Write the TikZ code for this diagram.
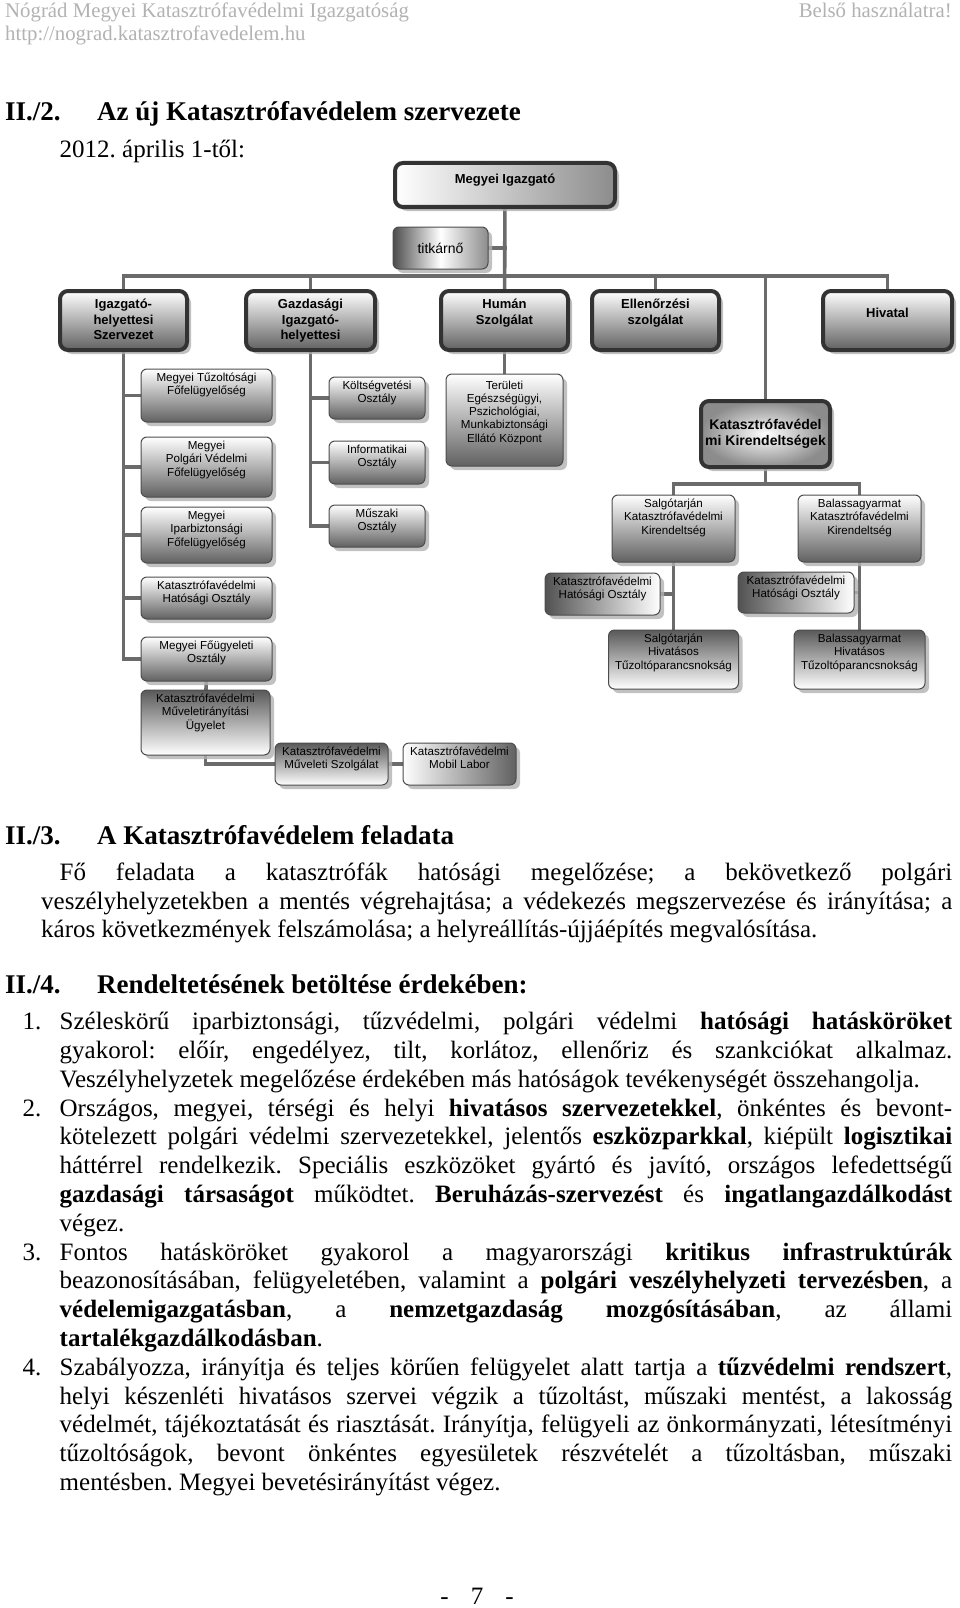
\documentclass[tikz,border=0pt]{standalone}
\usepackage{fontspec}
\setmainfont{Liberation Serif}
\newfontfamily\chartfont{Liberation Sans}
\usetikzlibrary{positioning, shadows, backgrounds}

\setlength{\parindent}{0pt}
\frenchspacing
\tolerance=9999
\hyphenpenalty=10000
\exhyphenpenalty=10000
\lineskiplimit=-100pt

\begin{document}
\begin{tikzpicture}[x=1pt, y=-1pt,
    hdr/.style={text=black!30, font=\fontsize{20.8}{22.5}\selectfont, inner sep=0pt},
    sect/.style={font=\fontsize{27}{30}\selectfont\bfseries, inner sep=0pt, anchor=base west},
    body/.style={font=\fontsize{25}{28.8}\selectfont, inner sep=0pt},
    conn/.style={draw=black!58, line width=3.6pt, line cap=rect},
    box/.style={rounded corners=6pt, draw=black!70, line width=1pt,
        drop shadow={shadow xshift=4pt, shadow yshift=-4pt, fill=black!30, opacity=0.8}},
    bigbox/.style={box, rounded corners=8pt, draw=black!80, line width=4pt},
    litedown/.style={top color=white, bottom color=black!62},
    darkdown/.style={top color=black!65, bottom color=white},
    darkleft/.style={left color=black!68, right color=white},
    darkright/.style={left color=white, right color=black!62},
    txt/.style={font=\chartfont\fontsize{11.6}{13.3}\selectfont, align=center, inner sep=0pt, anchor=north, yshift=-4.4pt},
    btxt/.style={font=\chartfont\bfseries\fontsize{13}{15.5}\selectfont, align=center, inner sep=0pt, anchor=north, yshift=-10pt}
    ]
\useasboundingbox (0,0) rectangle (960,1608);

\node[hdr, anchor=base west] (org) at (5,18) {Nógrád Megyei Katasztrófavédelmi Igazgatóság};
\node[hdr, anchor=base west] (web) at (5,41) {http://nograd.katasztrofavedelem.hu};
\node[hdr, anchor=base east] (belso) at (952,18) {Belső használatra!};

\node[sect] (n2) at (5,121) {II./2.};
\node[sect] (t2) at (97,121) {Az új Katasztrófavédelem szervezete};
\node[body, anchor=base west] (datum) at (59.5,158) {2012. április 1-től:};

\node[bigbox, left color=white, right color=black!45, minimum width=220, minimum height=44,
      label={[btxt, yshift=-3pt]north:{Megyei Igazgató}}] (igaz) at (505,185) {};
\node[box, left color=black!70, right color=black!45, middle color=white, minimum width=95, minimum height=42,
      font=\chartfont\fontsize{14}{16}\selectfont] (tit) at (440.5,248) {titkárnő};

\node[bigbox, litedown, minimum width=127, minimum height=59, label={[btxt]north:{Igazgató-\\helyettesi\\Szervezet}}] (igh) at (123.5,320.5) {};
\node[bigbox, litedown, minimum width=129, minimum height=59, label={[btxt]north:{Gazdasági\\Igazgató-\\helyettesi}}] (gaz) at (310.5,320.5) {};
\node[bigbox, litedown, minimum width=127, minimum height=59, label={[btxt]north:{Humán\\Szolgálat}}] (hum) at (504.5,320.5) {};
\node[bigbox, litedown, minimum width=127, minimum height=59, label={[btxt]north:{Ellenőrzési\\szolgálat}}] (ell) at (655.5,320.5) {};
\node[bigbox, litedown, minimum width=129, minimum height=59, label={[btxt, yshift=-9pt]north:{Hivatal}}] (hiv) at (887.5,320.5) {};

\node[box, litedown, minimum width=131, minimum height=53, label={[txt]north:{Megyei Tűzoltósági\\Főfelügyelőség}}] (tuz) at (206.5,395.5) {};
\node[box, litedown, minimum width=131, minimum height=60, label={[txt]north:{Megyei\\Polgári Védelmi\\Főfelügyelőség}}] (pv) at (206.5,467) {};
\node[box, litedown, minimum width=131, minimum height=56, label={[txt]north:{Megyei\\Iparbiztonsági\\Főfelügyelőség}}] (ipar) at (206.5,535) {};
\node[box, litedown, minimum width=131, minimum height=42, label={[txt]north:{Katasztrófavédelmi\\Hatósági Osztály}}] (hat) at (206.5,598) {};
\node[box, litedown, minimum width=131, minimum height=44, label={[txt]north:{Megyei Főügyeleti\\Osztály}}] (fougy) at (206.5,659) {};
\node[box, darkdown, minimum width=129, minimum height=65, label={[txt]north:{Katasztrófavédelmi\\Műveletirányítási\\Ügyelet}}] (muv) at (205.5,722.5) {};
\node[box, darkdown, minimum width=113, minimum height=42, label={[txt]north:{Katasztrófavédelmi\\Műveleti Szolgálat}}] (szolg) at (331.5,764) {};
\node[box, darkright, minimum width=113, minimum height=42, right=14pt of szolg, label={[txt]north:{Katasztrófavédelmi\\Mobil Labor}}] (labor) {};

\node[box, litedown, minimum width=96, minimum height=42, label={[txt]north:{Költségvetési\\Osztály}}] (kolt) at (377,398) {};
\node[box, litedown, minimum width=96, minimum height=43, below=21pt of kolt, label={[txt]north:{Informatikai\\Osztály}}] (info) {};
\node[box, litedown, minimum width=96, minimum height=42, below=20pt of info, label={[txt]north:{Műszaki\\Osztály}}] (musz) {};

\node[box, litedown, minimum width=117, minimum height=92, label={[txt, yshift=-2.5pt]north:{Területi\\Egészségügyi,\\Pszichológiai,\\Munkabiztonsági\\Ellátó Központ}}] (ter) at (504.5,420) {};

\node[bigbox, inner color=white, outer color=black!45, minimum width=129, minimum height=66,
      font=\chartfont\bfseries\fontsize{14}{16.5}\selectfont, align=center] (kir) at (765.5,434) {Katasztrófavédel\\mi Kirendeltségek};
\node[box, litedown, minimum width=123, minimum height=67, label={[txt]north:{Salgótarján\\Katasztrófavédelmi\\Kirendeltség}}] (skir) at (673.5,528.5) {};
\node[box, litedown, minimum width=123, minimum height=67, label={[txt]north:{Balassagyarmat\\Katasztrófavédelmi\\Kirendeltség}}] (bkir) at (859.5,528.5) {};
\node[box, darkleft, minimum width=115, minimum height=42, label={[txt]north:{Katasztrófavédelmi\\Hatósági Osztály}}] (shat) at (602.5,594) {};
\node[box, darkleft, minimum width=116, minimum height=41, label={[txt]north:{Katasztrófavédelmi\\Hatósági Osztály}}] (bhat) at (796,592.5) {};
\node[box, darkdown, minimum width=130, minimum height=59, label={[txt]north:{Salgótarján\\Hivatásos\\Tűzoltóparancsnokság}}] (shtp) at (673.5,659.5) {};
\node[box, darkdown, minimum width=131, minimum height=59, label={[txt]north:{Balassagyarmat\\Hivatásos\\Tűzoltóparancsnokság}}] (bhtp) at (859.5,659.5) {};

\begin{scope}[on background layer]
\coordinate (bus) at (505,276);
\coordinate (kbus) at (765.5,484);
\draw[conn] (igaz) -- (hum);
\draw[conn] (tit.east) -- (tit.east -| igaz.south);
\draw[conn] (igh.north |- bus) -- (hiv.north |- bus);
\foreach \n in {igh, gaz, ell, hiv, kir}
    \draw[conn] (\n.north) -- (\n.north |- bus);
\draw[conn] (igh.south) -- (igh.south |- fougy.west);
\foreach \n in {tuz, pv, ipar, hat, fougy}
    \draw[conn] (\n.west) -- (\n.west -| igh.south);
\draw[conn] (gaz.south) -- (gaz.south |- musz.west);
\foreach \n in {kolt, info, musz}
    \draw[conn] (\n.west) -- (\n.west -| gaz.south);
\draw[conn] (hum) -- (ter);
\draw[conn] (fougy) -- (muv);
\draw[conn] (muv.south) |- (szolg.west);
\draw[conn] (szolg) -- (labor);
\draw[conn] (kir.south) -- (kir.south |- kbus);
\draw[conn] (skir.north |- kbus) -- (bkir.north |- kbus);
\foreach \n in {skir, bkir}
    \draw[conn] (\n.north) -- (\n.north |- kbus);
\draw[conn] (skir) -- (shtp);
\draw[conn] (bkir) -- (bhtp);
\draw[conn] (shat.east) -- (shat.east -| skir.south);
\draw[conn] (bhat.east) -- (bhat.east -| bkir.south);
\end{scope}

\node[sect] (n3) at (5,844) {II./3.};
\node[sect] (t3) at (97,844) {A Katasztrófavédelem feladata};
\node[body, anchor=north west, text width=911pt, align=justify] (feladat) at (41,856) {\rule{0pt}{24pt}\hspace*{18.5pt}Fő feladata a katasztrófák hatósági megelőzése; a bekövetkező polgári\linebreak
veszélyhelyzetekben a mentés végrehajtása; a védekezés megszervezése és irányítása; a\linebreak
káros következmények felszámolása; a helyreállítás-újjáépítés megvalósítása.};

\node[sect] (n4) at (5,993) {II./4.};
\node[sect] (t4) at (97,993) {Rendeltetésének betöltése érdekében:};
\node[body, anchor=north west, text width=929.5pt, align=justify] (pontok) at (22.5,1005.5) {%
\hangindent=37pt\hangafter=1\rule{0pt}{24pt}\makebox[37pt][l]{1.}Széleskörű iparbiztonsági, tűzvédelmi, polgári védelmi \textbf{hatósági hatásköröket}\linebreak
gyakorol: előír, engedélyez, tilt, korlátoz, ellenőriz és szankciókat alkalmaz.\linebreak
Veszélyhelyzetek megelőzése érdekében más hatóságok tevékenységét összehangolja.\par
\hangindent=37pt\hangafter=1\makebox[37pt][l]{2.}Országos, megyei, térségi és helyi \textbf{hivatásos szervezetekkel}, önkéntes és bevont-\linebreak
kötelezett polgári védelmi szervezetekkel, jelentős \textbf{eszközparkkal}, kiépült \textbf{logisztikai}\linebreak
háttérrel rendelkezik. Speciális eszközöket gyártó és javító, országos lefedettségű\linebreak
\textbf{gazdasági társaságot} működtet. \textbf{Beruházás-szervezést} és \textbf{ingatlangazdálkodást}\linebreak
végez.\par
\hangindent=37pt\hangafter=1\makebox[37pt][l]{3.}Fontos hatásköröket gyakorol a magyarországi \textbf{kritikus infrastruktúrák}\linebreak
beazonosításában, felügyeletében, valamint a \textbf{polgári veszélyhelyzeti tervezésben}, a\linebreak
\textbf{védelemigazgatásban}, a \textbf{nemzetgazdaság mozgósításában}, az állami\linebreak
\textbf{tartalékgazdálkodásban}.\par
\hangindent=37pt\hangafter=1\makebox[37pt][l]{4.}Szabályozza, irányítja és teljes körűen felügyelet alatt tartja a \textbf{tűzvédelmi rendszert},\linebreak
helyi készenléti hivatásos szervei végzik a tűzoltást, műszaki mentést, a lakosság\linebreak
védelmét, tájékoztatását és riasztását. Irányítja, felügyeli az önkormányzati, létesítményi\linebreak
tűzoltóságok, bevont önkéntes egyesületek részvételét a tűzoltásban, műszaki\linebreak
mentésben. Megyei bevetésirányítást végez.\par};

\node[body, anchor=base] (oldal) at (477,1604) {-\hspace{22pt}7\hspace{22pt}-};
\end{tikzpicture}
\end{document}
